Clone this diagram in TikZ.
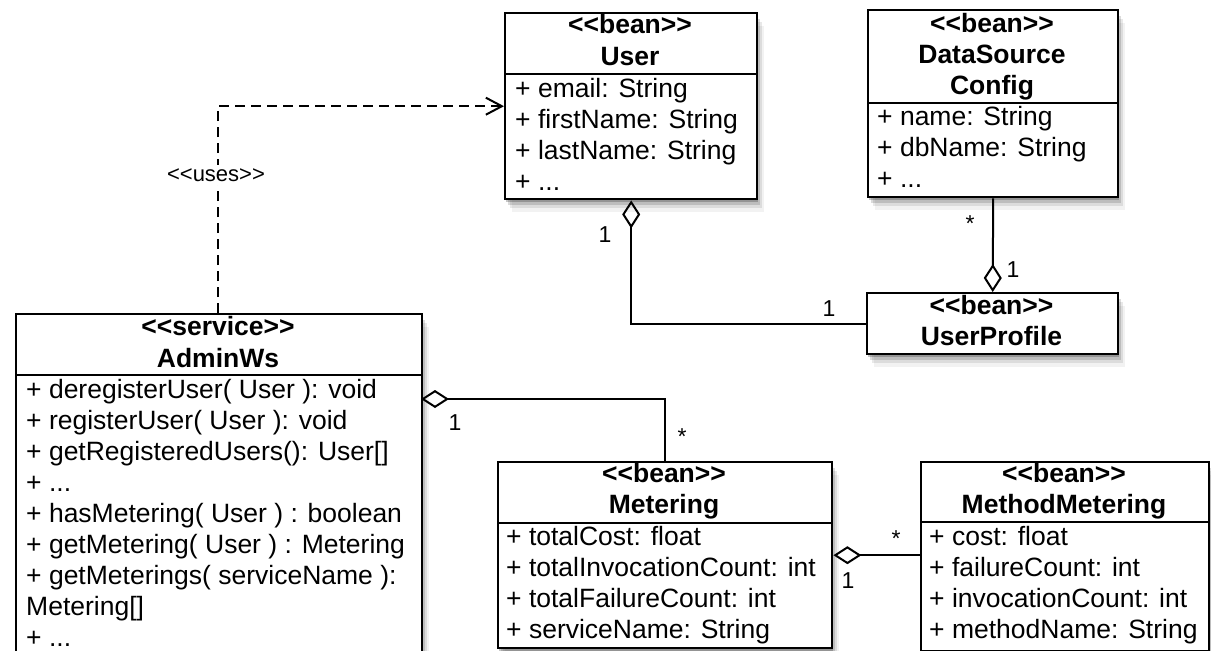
\documentclass[tikz,border=0pt]{standalone}
\usepackage{fontspec}
\setmainfont{Liberation Sans}
\usetikzlibrary{arrows.meta,shadows}
\newcommand\stereo[1]{<\kern0pt<#1>\kern0pt>}
\newcommand\ddd{...}
\newcommand\attrlines[4]{%
  \foreach \txt [count=\i] in {#4} {
    \node[attr] (#1-\i) at (#2, {#3+31*(\i-1)}) {\txt};
  }%
}
\begin{document}
\begin{tikzpicture}[x=1pt,y=-1pt,
  shadowed/.style={
    drop shadow={shadow xshift=1pt,shadow yshift=-3pt,opacity=.22,fill=black},
    drop shadow={shadow xshift=3pt,shadow yshift=-6pt,opacity=.14,fill=black},
    drop shadow={shadow xshift=5pt,shadow yshift=-9pt,opacity=.09,fill=black},
    drop shadow={shadow xshift=7pt,shadow yshift=-13pt,opacity=.05,fill=black}},
  box/.style={draw=black, line width=2.4pt, fill=white, inner sep=0pt, anchor=north west, shadowed},
  hdr/.style={font=\fontsize{26.5}{31}\selectfont\bfseries, anchor=base, inner sep=0pt},
  attr/.style={font=\fontsize{26.5}{31}\selectfont, anchor=base west, inner sep=0pt},
  mult/.style={font=\fontsize{23}{27}\selectfont, anchor=base, inner sep=0pt},
  divider/.style={line width=2pt},
  conn/.style={line width=2pt},
  agg/.style={conn, {Diamond[open, length=28pt, width=18pt, line width=2pt]}-},
  aggend/.style={conn, -{Diamond[open, length=28pt, width=18pt, line width=2pt]}},
  dep/.style={conn, dash pattern=on 10pt off 6pt, -{Straight Barb[length=16pt, width=17pt, line width=2pt]}},
]
\useasboundingbox (0,0) rectangle (1211,651);
\begin{scope}
\clip (0,0) rectangle (1211,651);

% ---------- boxes ----------
\node[box, minimum width=252pt, minimum height=186pt] (user) at (504,12) {};
\node[box, minimum width=250pt, minimum height=187pt] (dsc) at (867,9) {};
\node[box, minimum width=251pt, minimum height=61pt] (up) at (866,292) {};
\node[box, minimum width=406pt, minimum height=360pt] (aw) at (15,313) {};
\node[box, minimum width=334pt, minimum height=186pt] (met) at (497,461) {};
\node[box, minimum width=288pt, minimum height=189pt] (mm) at (920,461) {};

% ---------- dividers ----------
\draw[divider] (user.west |- 0,74) -- (user.east |- 0,74);
\draw[divider] (dsc.west |- 0,103) -- (dsc.east |- 0,103);
\draw[divider] (aw.west |- 0,375) -- (aw.east |- 0,375);
\draw[divider] (met.west |- 0,523) -- (met.east |- 0,523);
\draw[divider] (mm.west |- 0,522) -- (mm.east |- 0,522);

% ---------- headers ----------
\node[hdr] (user-s) at (630,33) {\stereo{bean}};
\node[hdr] (user-n) at (630,65) {User};
\node[hdr] (dsc-s) at (992,32) {\stereo{bean}};
\node[hdr] (dsc-n1) at (992,63) {DataSource};
\node[hdr] (dsc-n2) at (992,94) {Config};
\node[hdr] (up-s) at (991.5,314) {\stereo{bean}};
\node[hdr] (up-n) at (991.5,345) {UserProfile};
\node[hdr] (aw-s) at (218,335) {\stereo{service}};
\node[hdr] (aw-n) at (218,367) {AdminWs};
\node[hdr] (met-s) at (664,482) {\stereo{bean}};
\node[hdr] (met-n) at (664,513) {Metering};
\node[hdr] (mm-s) at (1064,482) {\stereo{bean}};
\node[hdr] (mm-n) at (1064,513) {MethodMetering};

% ---------- attributes ----------
\attrlines{user-a}{515}{97}{{+ email: String},{+ firstName: String},{+ lastName: String},{+ \ddd}}
\attrlines{dsc-a}{877}{125}{{+ name: String},{+ dbName: String},{+ \ddd}}
\attrlines{aw-a}{26}{398}{{+ deregisterUser( User ): void},{+ registerUser( User ): void},{+ getRegisteredUsers(): User[]},{+ \ddd},{+ hasMetering( User ) : boolean},{+ getMetering( User ) : Metering},{+ getMeterings( serviceName ):},{Metering[]},{+ \ddd}}
\attrlines{met-a}{506}{545}{{+ totalCost: float},{+ totalInvocationCount: int},{+ totalFailureCount: int},{+ serviceName: String}}
\attrlines{mm-a}{929}{545}{{+ cost: float},{+ failureCount: int},{+ invocationCount: int},{+ methodName: String}}

% ---------- connectors ----------
\coordinate (awtop) at (218,313);
\coordinate (awagg) at (421,399);
\draw[dep] (awtop) |- (user.west);
\node[font=\fontsize{22}{26}\selectfont, fill=white, inner xsep=1pt, inner ysep=3pt] (uses) at (216,175) {\stereo{uses}};
\draw[agg] (user.south) |- (up.west);
\draw[aggend] (dsc.south) -- (up.north);
\draw[agg] (awagg) -| (met.north);
\draw[agg] (met.east) -- (met.east -| mm.west);

% ---------- multiplicities ----------
\node[mult] (m1) at (605,242) {1};
\node[mult] (m2) at (829,316) {1};
\node[mult] (m3) at (970,231) {*};
\node[mult] (m4) at (1013,277) {1};
\node[mult] (m5) at (455,430) {1};
\node[mult] (m6) at (682,444) {*};
\node[mult] (m7) at (896,546) {*};
\node[mult] (m8) at (848,588) {1};
\end{scope}
\end{tikzpicture}
\end{document}
